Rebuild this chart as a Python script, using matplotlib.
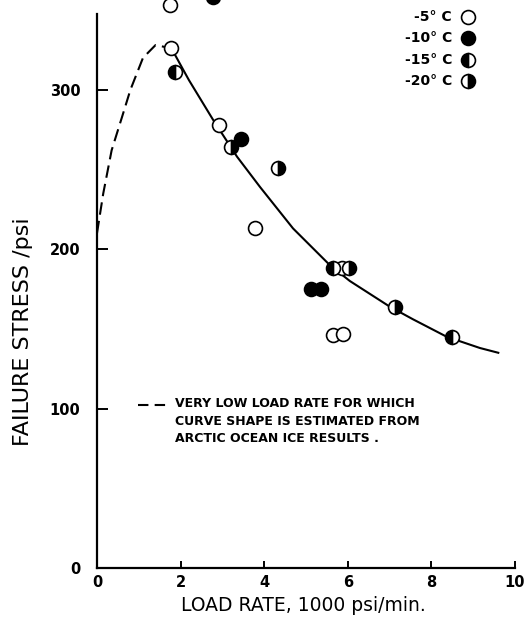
import matplotlib
matplotlib.use("Agg")
import matplotlib.pyplot as plt

# ---- data ----
# open circles (-5 C)
t5_x = [1.75, 1.77, 2.92, 3.78, 5.85, 5.65, 5.89]
t5_y = [353, 326, 278, 213, 188, 146, 147]
# filled circles (-10 C)
t10_x = [2.78, 3.44, 5.12, 5.35]
t10_y = [358, 269, 175, 175]
# left-half filled (-15 C)
t15_x = [1.87, 5.65, 8.49]
t15_y = [311, 188, 145]
# right-half filled (-20 C)
t20_x = [3.20, 4.33, 6.02, 7.13]
t20_y = [264, 251, 188, 164]

# fitted curve (solid)
fit_x = [1.78, 2.2, 2.78, 3.35, 3.9, 4.69, 5.57, 6.05, 7.0, 7.56, 8.37, 9.16, 9.6]
fit_y = [326, 306, 281, 258, 239, 213, 190, 180, 164, 156, 145, 138, 135]
# estimated curve (dashed)
est_x = [0.0, 0.15, 0.35, 0.6, 0.8, 1.1, 1.4, 1.78]
est_y = [210, 235, 262, 283, 300, 320, 328, 326]

legend_labels = ["-5° C", "-10° C", "-15° C", "-20° C"]

W, H = 528, 631
fig = plt.figure(figsize=(W / 100, H / 100), dpi=100)
ax = fig.add_axes([97 / W, 63 / H, (515 - 97) / W, (617 - 63) / H])
ax.set_xlim(0, 10)
ax.set_ylim(0, 347.5)
for s in ["top", "right"]:
    ax.spines[s].set_visible(False)
for s in ["left", "bottom"]:
    ax.spines[s].set_linewidth(1.6)

ax.set_xticks([0, 2, 4, 6, 8, 10])
ax.set_yticks([0, 100, 200, 300])
ax.tick_params(axis="y", direction="in", length=8, width=1.4, pad=12, labelsize=10.5)
ax.tick_params(axis="x", direction="in", length=5, width=1.4, pad=5, labelsize=10.5)
for lab in ax.get_xticklabels() + ax.get_yticklabels():
    lab.set_fontweight("bold")

ax.plot(fit_x, fit_y, color="black", lw=1.5, zorder=2)
ax.plot(est_x, est_y, color="black", lw=1.5, dashes=(6, 3), zorder=2)

mk = dict(marker="o", markersize=10, markeredgecolor="black", markeredgewidth=1.2,
          linestyle="none", clip_on=False, zorder=3)
ax.plot(t5_x, t5_y, markerfacecolor="white", **mk)
ax.plot(t10_x, t10_y, markerfacecolor="black", **mk)
ax.plot(t15_x, t15_y, fillstyle="left", markerfacecolor="black",
        markerfacecoloralt="white", **mk)
ax.plot(t20_x, t20_y, fillstyle="right", markerfacecolor="black",
        markerfacecoloralt="white", **mk)

# legend (manual)
styles = [dict(markerfacecolor="white"),
          dict(markerfacecolor="black"),
          dict(fillstyle="left", markerfacecolor="black", markerfacecoloralt="white"),
          dict(fillstyle="right", markerfacecolor="black", markerfacecoloralt="white")]
rows_px = [17, 38, 60, 81]
for lab, st, ry in zip(legend_labels, styles, rows_px):
    fy = 1 - ry / H
    fig.text(452 / W, fy, lab, ha="right", va="center", fontsize=10, fontweight="bold")
    fig.add_artist(plt.Line2D([468 / W], [fy], transform=fig.transFigure, marker="o",
                              markersize=10, markeredgecolor="black", markeredgewidth=1.2,
                              linestyle="none", **st))

# annotation
ax.plot([0.98, 1.68], [102, 102], color="black", lw=1.5, dashes=(5, 3))
ax.text(1.87, 107, "VERY LOW LOAD RATE FOR WHICH\nCURVE SHAPE IS ESTIMATED FROM\nARCTIC OCEAN ICE RESULTS .",
        ha="left", va="top", fontsize=9, fontweight="bold", linespacing=1.45)

fig.text(303 / W, 1 - 611 / H, "LOAD RATE, 1000 psi/min.", ha="center", va="baseline", fontsize=13.5)
fig.text(23 / W, 1 - 332 / H, "FAILURE STRESS /psi", ha="center", va="center",
         rotation=90, fontsize=16)

fig.savefig("out.png", dpi=100)
